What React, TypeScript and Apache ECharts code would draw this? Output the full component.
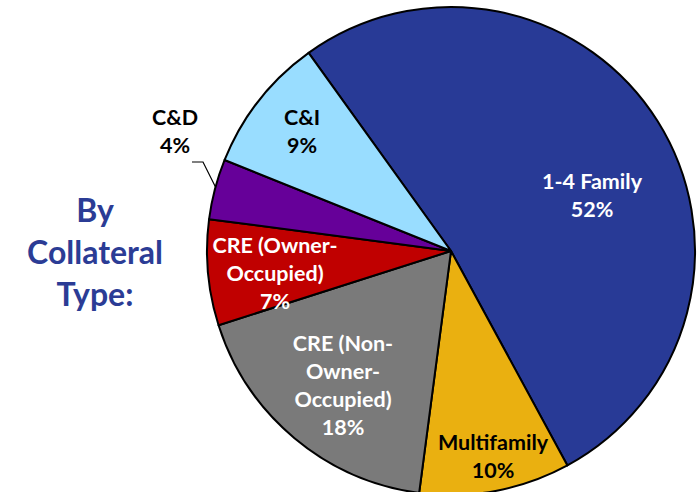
import React, { useEffect, useRef } from "react";
import * as echarts from "echarts";

const categories = [
  "1-4 Family",
  "Multifamily",
  "CRE (Non-Owner-Occupied)",
  "CRE (Owner-Occupied)",
  "C&D",
  "C&I",
];
const values = [52, 10, 18, 7, 4, 9];
const labelTexts = [
  "1-4 Family\n52%",
  "Multifamily\n10%",
  "CRE (Non-\nOwner-\nOccupied)\n18%",
  "CRE (Owner-\nOccupied)\n7%",
  "C&D\n4%",
  "C&I\n9%",
];
const colors = ["#283A96", "#EAB010", "#7A7A7A", "#C00000", "#660099", "#99DDFF"];
const labelColors = ["#ffffff", "#000000", "#ffffff", "#ffffff", "#000000", "#000000"];
// label anchor positions (px) within the 700x492 canvas
const labelPos = [
  [592, 195],
  [493, 456],
  [343, 385],
  [275, 273],
  [175, 131],
  [302, 131],
];
const cdLinePoints = [
  [217, 190],
  [203, 162],
  [192, 162],
];

export default function App() {
  const ref = useRef<HTMLDivElement>(null);
  useEffect(() => {
    if (!ref.current) return;
    const chart = echarts.init(ref.current, null, { renderer: "svg" });
    const font = "Lato, 'Open Sans', sans-serif";
    chart.setOption({
      animation: false,
      backgroundColor: "#ffffff",
      graphic: [
        {
          type: "text",
          x: 95,
          y: 251,
          z: 100,
          style: {
            text: "By\nCollateral\nType:",
            fill: "#2B3C95",
            font: `bold 32px ${font}`,
            lineHeight: 42,
            textAlign: "center",
            textVerticalAlign: "middle",
            align: "center",
            verticalAlign: "middle",
          },
        },
      ],
      series: [
        {
          type: "pie",
          center: [451, 251],
          radius: 244,
          startAngle: 125.7,
          clockwise: true,
          avoidLabelOverlap: false,
          itemStyle: { borderColor: "#000000", borderWidth: 2 },
          label: {
            show: true,
            position: "inside",
            fontFamily: font,
            fontWeight: "bold",
            fontSize: 21.5,
            lineHeight: 28,
            align: "center",
            formatter: (p: any) => labelTexts[p.dataIndex],
          },
          labelLine: { show: false },
          labelLayout: (p: any) => {
            const i = p.dataIndex;
            const out: any = {
              x: labelPos[i][0],
              y: labelPos[i][1],
              align: "center",
              verticalAlign: "middle",
            };
            if (i === 4) out.labelLinePoints = cdLinePoints;
            return out;
          },
          data: categories.map((c, i) => ({
            name: c,
            value: values[i],
            itemStyle: { color: colors[i] },
            label: {
              color: labelColors[i],
              position: i === 4 ? "outside" : "inside",
            },
            labelLine:
              i === 4
                ? { show: true, length: 10, length2: 10, lineStyle: { color: "#000", width: 1.2 } }
                : { show: false },
          })),
        },
      ],
    });
    return () => chart.dispose();
  }, []);
  return (
    <div
      ref={ref}
      style={{ position: "fixed", left: 0, top: 0, width: 700, height: 492 }}
    />
  );
}
